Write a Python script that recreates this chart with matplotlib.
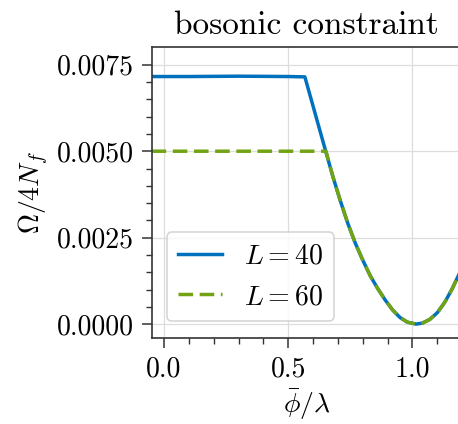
import matplotlib
matplotlib.use("Agg")
import matplotlib.pyplot as plt

plt.rcParams['font.family'] = 'serif'
plt.rcParams['font.serif'] = ['cmr10']
plt.rcParams['mathtext.fontset'] = 'cm'
plt.rcParams['axes.formatter.use_mathtext'] = True

# L = 40 (blue, solid)
phi_40 = [-0.05, 0.1, 0.3, 0.5, 0.567, 0.652, 0.68, 0.71, 0.74, 0.77, 0.80, 0.83, 0.86,
          0.89, 0.92, 0.95, 0.98, 1.015, 1.04, 1.07, 1.10, 1.13, 1.16, 1.19, 1.20]
omega_40 = [0.00716, 0.00716, 0.00717, 0.00716, 0.00715, 0.00497, 0.00426, 0.00356,
            0.00291, 0.00234, 0.00185, 0.00140, 0.00103, 0.00070, 0.00041, 0.00019,
            0.000055, 0.0, 0.000028, 0.000136, 0.00033, 0.00063, 0.00102, 0.00148, 0.00165]

# L = 60 (green, dashed)
phi_60 = [-0.05, 0.2, 0.4, 0.652, 0.68, 0.71, 0.74, 0.77, 0.80, 0.83, 0.86,
          0.89, 0.92, 0.95, 0.98, 1.015, 1.04, 1.07, 1.10, 1.13, 1.16, 1.19, 1.20]
omega_60 = [0.0050, 0.0050, 0.0050, 0.0050, 0.00426, 0.00356, 0.00291, 0.00234,
            0.00185, 0.00140, 0.00103, 0.00070, 0.00041, 0.00019, 0.000055, 0.0,
            0.000028, 0.000136, 0.00033, 0.00063, 0.00102, 0.00148, 0.00165]

fig = plt.figure(figsize=(4.58, 4.24), dpi=100)
ax = fig.add_axes([0.331, 0.203, 0.678, 0.685])

ax.plot(phi_40, omega_40, color='#0072BD', lw=2.5, label=r'$L=40$')
ax.plot(phi_60, omega_60, color='#72A314', lw=2.5, ls=(0, (4.2, 1.9)), label=r'$L=60$')

ax.set_xlim(-0.05, 1.2)
ax.set_ylim(-0.0004, 0.008)
ax.set_xticks([0.0, 0.5, 1.0])
ax.set_xticks([i * 0.1 for i in range(12)], minor=True)
ax.set_yticks([0.0, 0.0025, 0.005, 0.0075])
ax.set_yticks([i * 0.0005 for i in range(16)], minor=True)
ax.set_xticklabels(['0.0', '0.5', '1.0'])
ax.set_yticklabels(['0.0000', '0.0025', '0.0050', '0.0075'])
ax.grid(True, which='major', color='#dddddd', lw=0.9)
ax.set_axisbelow(True)

for s in ax.spines.values():
    s.set_color('#333333')
    s.set_linewidth(1.2)
ax.tick_params(which='major', length=7, width=1.1, color='#333333', labelsize=20, pad=6)
ax.tick_params(which='minor', length=4, width=1.0, color='#333333')

ax.set_title('bosonic constraint', fontsize=24, pad=10)
ax.set_xlabel(r'$\bar{\phi}/\lambda$', fontsize=20)
ax.set_ylabel(r'$\Omega/4N_f$', fontsize=20)

leg = ax.legend(loc='lower left', bbox_to_anchor=(0.048, 0.0575), borderaxespad=0,
                fontsize=20, handlelength=1.6, frameon=True, fancybox=True)
leg.get_frame().set_edgecolor('#cccccc')
leg.get_frame().set_linewidth(1.2)

fig.savefig('out.png', dpi=100)
